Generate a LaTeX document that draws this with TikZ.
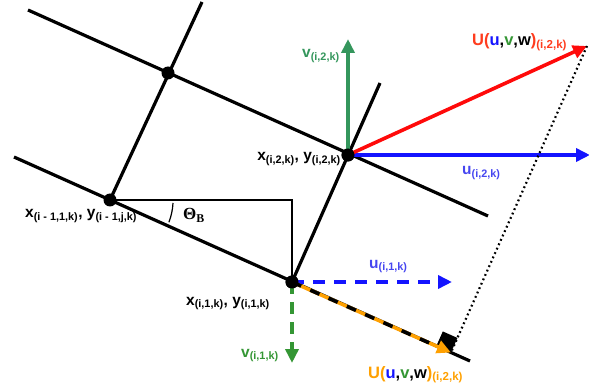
\documentclass[tikz,border=0pt]{standalone}
\usepackage{fontspec}
\setmainfont{Liberation Sans}
\newfontfamily\thetafont{Liberation Serif}
\usetikzlibrary{arrows.meta,calc}
\definecolor{upgreen}{RGB}{52,150,92}
\definecolor{dngreen}{RGB}{52,150,52}
\definecolor{vblue}{RGB}{20,20,255}
\definecolor{lblue}{RGB}{70,70,240}
\definecolor{vred}{RGB}{255,10,10}
\definecolor{lred}{RGB}{255,60,30}
\definecolor{vorange}{RGB}{255,160,0}
\newcommand{\ix}[1]{\textsubscript{#1}}
\begin{document}
\begin{tikzpicture}[x=1pt,y=-1pt,
    grid/.style={line width=3.2pt,black},
    dot/.style={circle,fill=black,inner sep=0pt,minimum size=13pt},
    lbl/.style={font=\bfseries\fontsize{15.5}{18}\selectfont,inner sep=0pt},
    ulbl/.style={font=\bfseries\fontsize{16.5}{19}\selectfont,inner sep=0pt},
    vec/.style={line width=3.6pt,-{Triangle[length=14pt,width=13pt]}}]
    \useasboundingbox (0,0) rectangle (589,390);
    % grid lines
    \coordinate (tL) at (28,10);
    \coordinate (tR) at (488,216);
    \coordinate (bL) at (14,157);
    \coordinate (bR) at (470,361);
    \coordinate (cL) at (202,2);
    \coordinate (cR) at (380,83);
    \draw[grid] (tL) -- (tR);
    \draw[grid] (bL) -- (bR);
    \node[dot] (nA) at (168,73) {};
    \node[dot] (nB) at (110,200) {};
    \node[dot] (nC) at (348,155) {};
    \node[dot] (nD) at (292,282) {};
    \draw[grid] (cL) -- (nB.center);
    \draw[grid] (cR) -- (nD.center);
    % angle
    \coordinate (hB) at (292,200);
    \draw[line width=1.6pt] (nB.center) -- (hB) -- (nD.center);
    \draw[line width=1.2pt] ($(nB)+(63,3)$) arc[start angle=3,end angle=21,radius=63];
    \node[anchor=base west,inner sep=0pt,font=\thetafont\bfseries\fontsize{17}{19}\selectfont] (theta) at (183,220) {Θ\ix{B}};
    % vectors at (i,2,k)
    \coordinate (vTop) at (348,39);
    \coordinate (uEnd) at (590,155);
    \coordinate (Utip) at (587,46);
    \draw[vec,upgreen] (nC.center) -- (vTop);
    \draw[vec,vblue] (nC.center) -- (uEnd);
    \draw[vec,vred] (nC.center) -- (Utip);
    \node[dot] at (nC) {};
    % projection
    \coordinate (foot) at ($(nD.center)!(Utip)!(bR)$);
    \draw[line width=2.2pt,dash pattern=on 1.8pt off 3pt] (Utip) -- (foot);
    \coordinate (sqA) at ($(foot)!16pt!(nD.center)$);
    \coordinate (sqB) at ($(foot)!16pt!(Utip)$);
    \fill (foot) -- (sqA) -- ($(sqA)+(sqB)-(foot)$) -- (sqB) -- cycle;
    % vectors at (i,1,k)
    \coordinate (uDash) at (452,282);
    \coordinate (vDown) at (292,363);
    \draw[vec,vblue,dash pattern=on 12pt off 9pt] (nD.center) -- (uDash);
    \draw[vec,dngreen,dash pattern=on 12pt off 8pt] (nD.center) -- (vDown);
    \draw[vec,vorange] (nD.center) -- (foot);
    \draw[black,line width=3.6pt,dash pattern=on 10pt off 10pt] (nD.center) -- ($(foot)!16pt!(nD.center)$);
    \node[dot] at (nD) {};
    % labels
    \node[lbl,anchor=base west,upgreen] (lvC) at (302,58) {v\ix{(i,2,k)}};
    \node[ulbl,anchor=base west,lred] (lUC) at (472,46)
        {U(\textcolor{vblue}{u}\textcolor{black}{,}\textcolor{dngreen}{v}\textcolor{black}{,w})\ix{(i,2,k)}};
    \node[lbl,anchor=base east] (lxC) at (341,161) {x\ix{(i,2,k)}, y\ix{(i,2,k)}};
    \node[lbl,anchor=base west,lblue] (luC) at (462,175) {u\ix{(i,2,k)}};
    \node[lbl,anchor=base west] (lxB) at (25,218) {x\ix{(i - 1,1,k)}, y\ix{(i - 1,j,k)}};
    \node[lbl,anchor=base west,lblue] (luD) at (369,268) {u\ix{(i,1,k)}};
    \node[lbl,anchor=base west] (lxD) at (186,305) {x\ix{(i,1,k)}, y\ix{(i,1,k)}};
    \node[lbl,anchor=base west,dngreen] (lvD) at (241,357) {v\ix{(i,1,k)}};
    \node[ulbl,anchor=base west,vorange] (lUD) at (368,378)
        {U(\textcolor{vblue}{u}\textcolor{black}{,}\textcolor{dngreen}{v}\textcolor{black}{,w})\ix{(i,2,k)}};
\end{tikzpicture}
\end{document}
